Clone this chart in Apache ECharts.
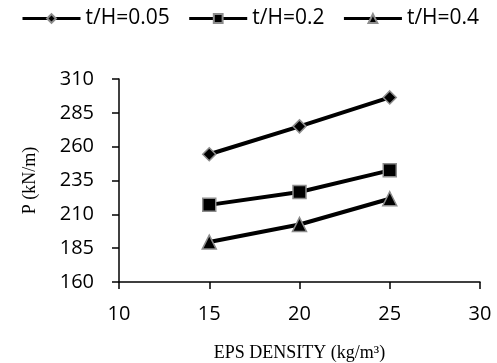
<!DOCTYPE html>
<html>
<head>
<meta charset="utf-8">
<script src="https://cdn.jsdelivr.net/npm/echarts@6/dist/echarts.min.js"></script>
<style>
  html, body { margin: 0; padding: 0; background: #fff; }
  #chart { width: 497px; height: 363px; }
</style>
</head>
<body>
<div id="chart"></div>
<script>
var densities = [15, 20, 25];
var seriesNames = ['t/H=0.05', 't/H=0.2', 't/H=0.4'];
var th005 = [254.4, 275, 296.4];
var th02 = [217, 226.5, 242.5];
var th04 = [189.5, 202.5, 221.5];
var xTicks = [10, 15, 20, 25, 30];
var yTicks = [160, 185, 210, 235, 260, 285, 310];

function pairs(vals) {
  return densities.map(function (d, i) { return [d, vals[i]]; });
}

var chart = echarts.init(document.getElementById('chart'));

var markers = ['diamond', 'rect', 'triangle'];
var sizes = [13, 13, 14];
var allVals = [th005, th02, th04];

var series = seriesNames.map(function (name, i) {
  return {
    name: name,
    type: 'line',
    data: pairs(allVals[i]),
    symbol: markers[i],
    symbolSize: sizes[i],
    lineStyle: { color: '#000', width: 4 },
    itemStyle: { color: '#000', borderColor: '#8c8c8c', borderWidth: 1.5 },
    animation: false
  };
});

var option = {
  backgroundColor: '#fff',
  grid: { left: 119, right: 17, top: 79, bottom: 81, outerBoundsMode: 'none' },
  legend: {
    top: 3,
    left: 16,
    itemWidth: 58,
    itemHeight: 11,
    itemGap: 18,
    lineStyle: { width: 3 },
    textStyle: { fontFamily: 'Open Sans', fontSize: 21, color: '#000' },
    data: seriesNames
  },
  xAxis: {
    type: 'value',
    min: xTicks[0],
    max: xTicks[xTicks.length - 1],
    interval: 5,
    name: 'EPS DENSITY (kg/m³)',
    nameLocation: 'middle',
    nameGap: 62,
    nameTextStyle: { fontFamily: 'Liberation Serif', fontSize: 18, color: '#000' },
    splitLine: { show: false },
    axisLine: { lineStyle: { color: '#000', width: 1.5 } },
    axisTick: { length: 7, lineStyle: { color: '#000', width: 1.5 } },
    axisLabel: { fontFamily: 'Open Sans', fontSize: 20, color: '#000', margin: 22 }
  },
  yAxis: {
    type: 'value',
    min: yTicks[0],
    max: yTicks[yTicks.length - 1],
    interval: 25,
    name: 'P (kN/m)',
    nameLocation: 'middle',
    nameGap: 80,
    nameTextStyle: { fontFamily: 'Liberation Serif', fontSize: 18, color: '#000' },
    splitLine: { show: false },
    axisLine: { show: true, lineStyle: { color: '#000', width: 1.5 } },
    axisTick: { show: true, length: 7, lineStyle: { color: '#000', width: 1.5 } },
    axisLabel: { fontFamily: 'Open Sans', fontSize: 20, color: '#000', margin: 25 }
  },
  series: series
};

chart.setOption(option);
window.addEventListener('resize', function () {
  chart.resize();
});
</script>
</body>
</html>
